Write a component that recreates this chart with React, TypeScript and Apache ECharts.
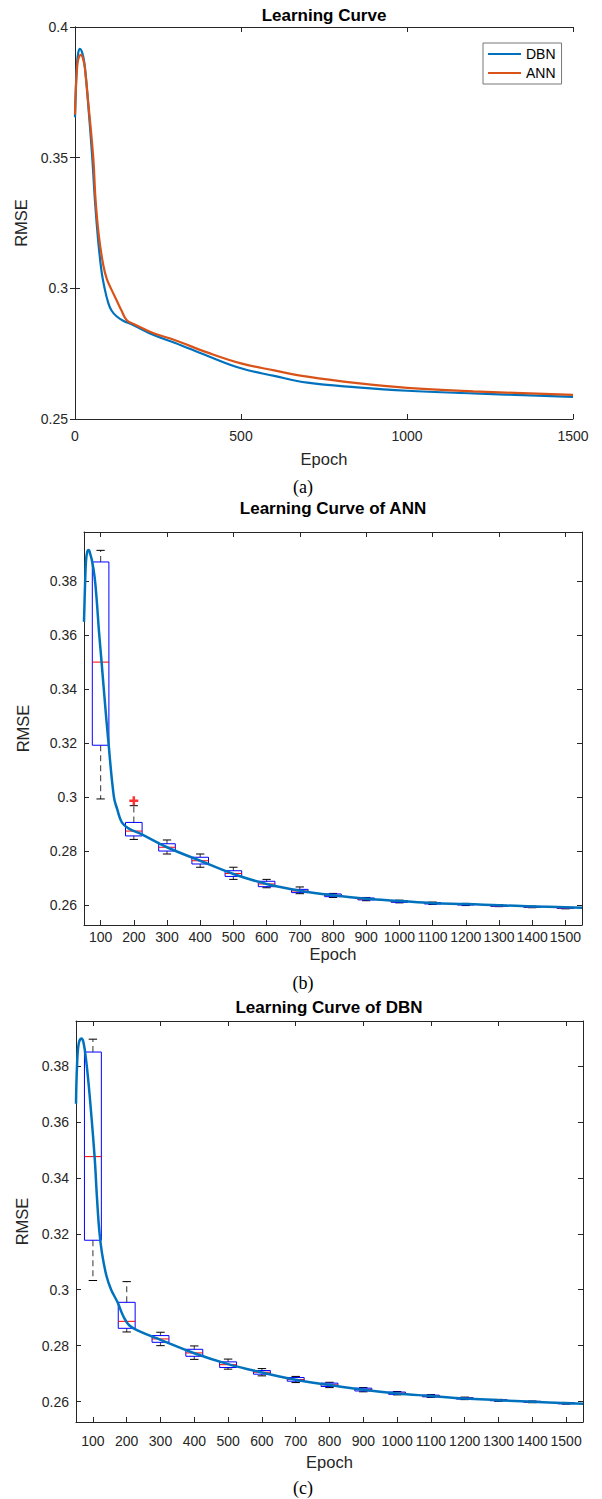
import React, { useEffect, useRef } from "react";
import * as echarts from "echarts";

// ---------- Panel (a): learning curves ----------
const aEpochsDBN = [0, 3, 6, 10, 15, 20, 25, 30, 40, 52, 60, 70, 80, 90, 100, 110, 125, 145, 175, 237, 300, 400, 500, 600, 700, 850, 1000, 1200, 1500];
const aDBN = [0.3655, 0.378, 0.386, 0.3903, 0.3916, 0.3908, 0.3885, 0.3845, 0.37, 0.35, 0.3338, 0.318, 0.3065, 0.2995, 0.2945, 0.2915, 0.2893, 0.2876, 0.286, 0.2821, 0.2792, 0.2741, 0.2694, 0.2665, 0.2639, 0.2621, 0.2608, 0.2598, 0.2585];
const aEpochsANN = [0, 3, 6, 10, 18, 25, 30, 40, 55, 62, 72, 85, 96, 110, 125, 140, 156, 180, 237, 300, 400, 500, 600, 700, 850, 1000, 1200, 1500];
const aANN = [0.3665, 0.3775, 0.384, 0.3878, 0.3893, 0.3875, 0.384, 0.371, 0.35, 0.3338, 0.32, 0.309, 0.3035, 0.2995, 0.2955, 0.2915, 0.2878, 0.2862, 0.2828, 0.2802, 0.2754, 0.2713, 0.2686, 0.2662, 0.2637, 0.2619, 0.2606, 0.2592];

// ---------- Box-plot categories ----------
const boxCategories = ["100", "200", "300", "400", "500", "600", "700", "800", "900", "1000", "1100", "1200", "1300", "1400", "1500"];
const boxYTicks = [0.26, 0.28, 0.3, 0.32, 0.34, 0.36, 0.38];

// ---------- Panel (b): ANN ----------
const bEpochs = [0, 3, 6, 10, 14, 20, 25, 32, 38, 45, 53, 61, 73, 90, 100, 114, 134, 174, 250, 350, 450, 550, 650, 750, 850, 950, 1050, 1150, 1250, 1350, 1500];
const bCurve = [0.3649, 0.378, 0.3875, 0.391, 0.3915, 0.3895, 0.387, 0.3815, 0.3735, 0.3615, 0.35, 0.338, 0.3211, 0.3001, 0.2955, 0.2906, 0.2884, 0.2862, 0.2814, 0.2764, 0.2715, 0.2678, 0.2653, 0.2636, 0.2623, 0.2615, 0.2607, 0.2604, 0.2599, 0.2595, 0.259];
const bMin = [0.2993, 0.2843, 0.2789, 0.274, 0.2695, 0.2664, 0.2642, 0.2628, 0.2616, 0.2608, 0.2602, 0.2598, 0.2594, 0.259, 0.2586];
const bQ1 = [0.3192, 0.2856, 0.28, 0.2752, 0.2706, 0.2668, 0.2646, 0.2631, 0.2619, 0.261, 0.2604, 0.26, 0.2595, 0.2591, 0.2587];
const bMed = [0.35, 0.2874, 0.2814, 0.2764, 0.2717, 0.2678, 0.2652, 0.2636, 0.2622, 0.2613, 0.2606, 0.2602, 0.2597, 0.2593, 0.2589];
const bQ3 = [0.3871, 0.2906, 0.2827, 0.2777, 0.2727, 0.2688, 0.2658, 0.2641, 0.2626, 0.2616, 0.2609, 0.2605, 0.2599, 0.2595, 0.2591];
const bMax = [0.3914, 0.2968, 0.2841, 0.2789, 0.274, 0.2695, 0.2667, 0.2643, 0.2628, 0.2618, 0.2611, 0.2606, 0.2601, 0.2596, 0.2592];
const bOutlierCats = ["200"];
const bOutlierVals = [0.2986];

// ---------- Panel (c): DBN ----------
const cEpochs = [0, 3, 8, 16, 22, 30, 40, 55, 62, 69, 77, 90, 104, 123, 140, 158, 190, 252, 350, 450, 550, 650, 750, 850, 950, 1050, 1150, 1250, 1350, 1500];
const cCurve = [0.3665, 0.38, 0.388, 0.3898, 0.3885, 0.382, 0.37, 0.3476, 0.333, 0.321, 0.313, 0.305, 0.3, 0.2955, 0.2905, 0.2872, 0.285, 0.282, 0.2773, 0.2734, 0.2704, 0.2678, 0.2659, 0.2642, 0.2629, 0.262, 0.2611, 0.2605, 0.2599, 0.2592];
const cMin = [0.3033, 0.2849, 0.28, 0.2751, 0.2716, 0.2692, 0.2668, 0.265, 0.2635, 0.2624, 0.2615, 0.2607, 0.2601, 0.2596, 0.2591];
const cQ1 = [0.3177, 0.2862, 0.2812, 0.2762, 0.2722, 0.2698, 0.2673, 0.2654, 0.2638, 0.2626, 0.2617, 0.2609, 0.2603, 0.2597, 0.2592];
const cMed = [0.3476, 0.2887, 0.2824, 0.2774, 0.2732, 0.2705, 0.2679, 0.266, 0.2643, 0.263, 0.262, 0.2612, 0.2605, 0.2599, 0.2594];
const cQ3 = [0.385, 0.2955, 0.2836, 0.2787, 0.2742, 0.2711, 0.2686, 0.2666, 0.2648, 0.2634, 0.2623, 0.2614, 0.2607, 0.2601, 0.2596];
const cMax = [0.3896, 0.3029, 0.2848, 0.2799, 0.2752, 0.2718, 0.269, 0.2669, 0.265, 0.2636, 0.2625, 0.2616, 0.2608, 0.2602, 0.2597];

const SANS = "'Liberation Sans', Arial, Helvetica, sans-serif";
const SERIF = "'Liberation Serif', 'Times New Roman', serif";
const AX = "#262626";
const BLUE = "#0072BD";
const ORANGE = "#D95319";

const zip = (xs: number[], ys: number[]) => xs.map((x, i) => [x, ys[i]]);
const boxData = (mn: number[], q1: number[], md: number[], q3: number[], mx: number[]) =>
  mn.map((_, i) => [i, mn[i], q1[i], md[i], q3[i], mx[i]]);

const renderBox = (_params: any, api: any) => {
  const idx = api.value(0);
  const band = api.size([1, 0])[0];
  const hw = band * 0.25;
  const cw = band * 0.125;
  const p = (v: number) => api.coord([idx, v]);
  const [cx, yMin] = p(api.value(1));
  const yQ1 = p(api.value(2))[1];
  const yMed = p(api.value(3))[1];
  const yQ3 = p(api.value(4))[1];
  const yMax = p(api.value(5))[1];
  const whisk = { stroke: "#555", lineWidth: 1.2, lineDash: [6, 4] };
  const cap = { stroke: "#000", lineWidth: 1 };
  return {
    type: "group",
    children: [
      { type: "line", shape: { x1: cx, y1: yQ3, x2: cx, y2: yMax }, style: whisk },
      { type: "line", shape: { x1: cx, y1: yQ1, x2: cx, y2: yMin }, style: whisk },
      { type: "line", shape: { x1: cx - cw, y1: yMax, x2: cx + cw, y2: yMax }, style: cap },
      { type: "line", shape: { x1: cx - cw, y1: yMin, x2: cx + cw, y2: yMin }, style: cap },
      { type: "rect", shape: { x: cx - hw, y: yQ3, width: 2 * hw, height: yQ1 - yQ3 }, style: { fill: "none", stroke: "#0000FF", lineWidth: 1 } },
      { type: "line", shape: { x1: cx - hw, y1: yMed, x2: cx + hw, y2: yMed }, style: { stroke: "#FF0000", lineWidth: 1 } },
    ],
  };
};

const axisLine = { show: true, lineStyle: { color: AX, width: 1 } };
const tickIn = { show: true, inside: true, length: 5, lineStyle: { color: AX, width: 1 } };
const labelStyle = { color: AX, fontSize: 14, fontFamily: SANS };
const nameStyle = { color: AX, fontSize: 16.5, fontFamily: SANS };
const fmt = (v: number) => String(+(+v).toFixed(2));
const titleStyle = { fontFamily: SANS, fontSize: 17, fontWeight: "bold", fill: "#000", textAlign: "center", textVerticalAlign: "middle" };
const capStyle = { fontFamily: SERIF, fontSize: 18, fill: "#000", textAlign: "center", textVerticalAlign: "middle" };

export default function App() {
  const ref = useRef<HTMLDivElement>(null);
  useEffect(() => {
    document.body.style.margin = "0";
    if (!ref.current) return;
    const chart = echarts.init(ref.current, undefined, { renderer: "svg" });

    const grids = [
      { left: 75, top: 27, width: 498, height: 392 },
      { left: 84, top: 532, width: 498, height: 393 },
      { left: 76, top: 1021, width: 507, height: 401 },
    ];

    const catBottom = (gi: number, margin: number, gap: number) => ({
      type: "category", gridIndex: gi, data: boxCategories, boundaryGap: true,
      axisLine, axisTick: { ...tickIn, alignWithLabel: true },
      axisLabel: { ...labelStyle, interval: 0, margin, hideOverlap: false },
      splitLine: { show: false },
      name: "Epoch", nameLocation: "middle", nameGap: gap, nameTextStyle: nameStyle,
    });
    const catTop = (gi: number) => ({
      type: "category", gridIndex: gi, position: "top", data: boxCategories, boundaryGap: true,
      axisLine, axisTick: { ...tickIn, alignWithLabel: true }, axisLabel: { show: false }, splitLine: { show: false },
    });
    const hiddenVal = (gi: number) => ({ type: "value", gridIndex: gi, min: 0, max: 1500, show: false });
    const boxLeft = (gi: number, min: number, max: number, gap: number) => ({
      type: "value", gridIndex: gi, min, max, axisLine,
      axisTick: { ...tickIn, customValues: boxYTicks },
      axisLabel: { ...labelStyle, margin: 7, customValues: boxYTicks, formatter: fmt },
      splitLine: { show: false },
      name: "RMSE", nameLocation: "middle", nameGap: gap, nameTextStyle: nameStyle,
    });
    const boxRight = (gi: number, min: number, max: number) => ({
      type: "value", gridIndex: gi, position: "right", min, max, axisLine,
      axisTick: { ...tickIn, customValues: boxYTicks }, axisLabel: { show: false }, splitLine: { show: false },
    });
    const curve = (name: string, xi: number, yi: number, data: number[][], color: string, width: number, z: number) => ({
      name, type: "line", xAxisIndex: xi, yAxisIndex: yi, data, showSymbol: false, symbol: "none",
      smooth: 0.4, lineStyle: { color, width }, itemStyle: { color }, z,
    });

    const option: any = {
      animation: false,
      backgroundColor: "#fff",
      grid: grids,
      xAxis: [
        {
          type: "value", gridIndex: 0, min: 0, max: 1500, interval: 500, axisLine, axisTick: tickIn,
          axisLabel: { ...labelStyle, margin: 10, formatter: (v: number) => String(v) }, splitLine: { show: false },
          name: "Epoch", nameLocation: "middle", nameGap: 31, nameTextStyle: nameStyle,
        },
        { type: "value", gridIndex: 0, position: "top", min: 0, max: 1500, interval: 500, axisLine, axisTick: tickIn, axisLabel: { show: false }, splitLine: { show: false } },
        catBottom(1, 5, 20),
        catTop(1),
        hiddenVal(1),
        catBottom(2, 12, 31),
        catTop(2),
        hiddenVal(2),
      ],
      yAxis: [
        {
          type: "value", gridIndex: 0, min: 0.25, max: 0.4, interval: 0.05, axisLine, axisTick: tickIn,
          axisLabel: { ...labelStyle, margin: 7, formatter: fmt }, splitLine: { show: false },
          name: "RMSE", nameLocation: "middle", nameGap: 42, nameTextStyle: nameStyle,
        },
        { type: "value", gridIndex: 0, position: "right", min: 0.25, max: 0.4, interval: 0.05, axisLine, axisTick: tickIn, axisLabel: { show: false }, splitLine: { show: false } },
        boxLeft(1, 0.2526, 0.3982, 53),
        boxRight(1, 0.2526, 0.3982),
        boxLeft(2, 0.2527, 0.3961, 43),
        boxRight(2, 0.2527, 0.3961),
      ],
      legend: {
        data: ["DBN", "ANN"], orient: "vertical", left: 483, top: 43,
        icon: "rect", itemWidth: 33, itemHeight: 2, itemGap: 5,
        padding: [4, 6, 4, 5], borderColor: "#777", borderWidth: 1, backgroundColor: "#fff",
        textStyle: { color: "#000", fontSize: 14, fontFamily: SANS },
      },
      graphic: [
        { type: "text", x: 324, y: 15, style: { ...titleStyle, text: "Learning Curve" } },
        { type: "text", x: 303, y: 487, style: { ...capStyle, text: "(a)" } },
        { type: "text", x: 333, y: 508, style: { ...titleStyle, text: "Learning Curve of ANN" } },
        { type: "text", x: 303, y: 983, style: { ...capStyle, text: "(b)" } },
        { type: "text", x: 329, y: 1007, style: { ...titleStyle, text: "Learning Curve of DBN" } },
        { type: "text", x: 303, y: 1488, style: { ...capStyle, text: "(c)" } },
      ],
      series: [
        curve("DBN", 0, 0, zip(aEpochsDBN, aDBN), BLUE, 2.2, 4),
        curve("ANN", 0, 0, zip(aEpochsANN, aANN), ORANGE, 2.2, 5),

        { name: "ANN boxes", type: "custom", xAxisIndex: 2, yAxisIndex: 2, renderItem: renderBox, data: boxData(bMin, bQ1, bMed, bQ3, bMax), encode: { x: 0, y: [1, 2, 3, 4, 5] }, z: 2 },
        { name: "ANN outliers", type: "scatter", xAxisIndex: 2, yAxisIndex: 2, data: bOutlierCats.map((c, i) => [c, bOutlierVals[i]]), symbol: "path://M3.6,0H6.4V3.6H10V6.4H6.4V10H3.6V6.4H0V3.6H3.6Z", symbolSize: 9, itemStyle: { color: "#FF0000" }, z: 3 },
        curve("ANN curve", 4, 2, zip(bEpochs, bCurve), BLUE, 2.5, 4),

        { name: "DBN boxes", type: "custom", xAxisIndex: 5, yAxisIndex: 4, renderItem: renderBox, data: boxData(cMin, cQ1, cMed, cQ3, cMax), encode: { x: 0, y: [1, 2, 3, 4, 5] }, z: 2 },
        curve("DBN curve", 7, 4, zip(cEpochs, cCurve), BLUE, 2.5, 4),
      ],
    };
    chart.setOption(option);
    return () => chart.dispose();
  }, []);
  return <div ref={ref} style={{ width: 602, height: 1499 }} />;
}
